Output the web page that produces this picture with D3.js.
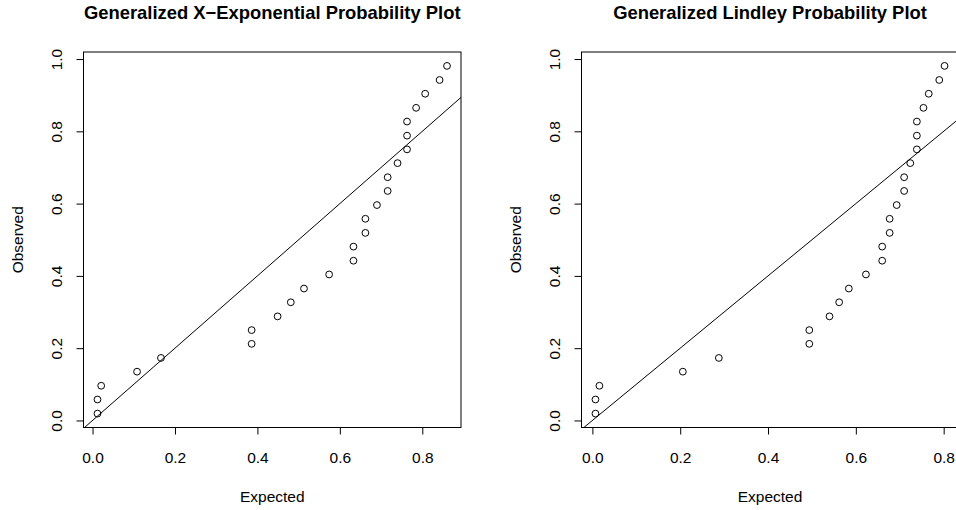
<!DOCTYPE html>
<html>
<head>
<meta charset="utf-8">
<script src="https://cdn.jsdelivr.net/npm/d3@7/dist/d3.min.js"></script>
<style>
  html, body { margin: 0; padding: 0; background: #fff; }
  svg { display: block; }
  text { font-family: "Liberation Sans", Arial, Helvetica, sans-serif; fill: #000; }
</style>
</head>
<body>
<svg id="chart" width="956" height="510"></svg>
<script>
// Observed plotting positions (shared by both panels)
const observed = [0.019, 0.058, 0.096, 0.135, 0.173, 0.212, 0.250, 0.288, 0.327, 0.365,
                  0.404, 0.442, 0.481, 0.519, 0.558, 0.596, 0.635, 0.673, 0.712, 0.750,
                  0.788, 0.827, 0.865, 0.904, 0.942, 0.981];

// Expected values under the generalized X-exponential fit
const expectedGXE = [0.012, 0.012, 0.021, 0.108, 0.166, 0.386, 0.386, 0.449, 0.481, 0.513,
                     0.574, 0.633, 0.633, 0.662, 0.662, 0.690, 0.716, 0.716, 0.740, 0.763,
                     0.763, 0.763, 0.785, 0.807, 0.842, 0.860];

// Expected values under the generalized Lindley fit
const expectedGL = [0.007, 0.007, 0.016, 0.206, 0.288, 0.494, 0.494, 0.540, 0.562, 0.584,
                    0.623, 0.660, 0.660, 0.677, 0.677, 0.693, 0.710, 0.710, 0.724, 0.739,
                    0.739, 0.739, 0.754, 0.766, 0.790, 0.802];

const xTicks = [0.0, 0.2, 0.4, 0.6, 0.8];
const yTicks = [0.0, 0.2, 0.4, 0.6, 0.8, 1.0];

const titles = ["Generalized X\u2212Exponential Probability Plot", "Generalized Lindley Probability Plot"];
const xLabel = "Expected";
const yLabel = "Observed";

// Reference line y = a + b x
const refIntercept = 0;
const refSlope = 1;

const svg = d3.select("#chart");
const fmt = d3.format(".1f");

// R-style 4% range expansion
function padExtent(vals) {
  const [lo, hi] = d3.extent(vals);
  const p = (hi - lo) * 0.04;
  return [lo - p, hi + p];
}

const panels = [
  { left: 83.5, width: 377.5, expected: expectedGXE, title: titles[0] },
  { left: 581.5, width: 377, expected: expectedGL, title: titles[1] }
];
const plotTop = 52, plotBottom = 427.5;

panels.forEach((p, i) => {
  const g = svg.append("g");
  const x = d3.scaleLinear().domain(padExtent(p.expected)).range([p.left, p.left + p.width]);
  const y = d3.scaleLinear().domain(padExtent(observed)).range([plotBottom, plotTop]);
  const cx = p.left + p.width / 2;
  const cy = (plotTop + plotBottom) / 2;

  const clipId = "clip" + i;
  g.append("clipPath").attr("id", clipId)
    .append("rect").attr("x", p.left).attr("y", plotTop)
    .attr("width", p.width).attr("height", plotBottom - plotTop);

  // reference line
  const xd = x.domain();
  g.append("line")
    .attr("clip-path", `url(#${clipId})`)
    .attr("x1", x(xd[0])).attr("y1", y(refIntercept + refSlope * xd[0]))
    .attr("x2", x(xd[1])).attr("y2", y(refIntercept + refSlope * xd[1]))
    .attr("stroke", "#000").attr("stroke-width", 1);

  // points
  g.selectAll("circle.pt").data(p.expected.map((e, j) => [e, observed[j]]))
    .join("circle").attr("class", "pt")
    .attr("cx", d => x(d[0])).attr("cy", d => y(d[1]))
    .attr("r", 3.4).attr("fill", "none").attr("stroke", "#000").attr("stroke-width", 1);

  // plot box
  g.append("rect")
    .attr("x", p.left).attr("y", plotTop)
    .attr("width", p.width).attr("height", plotBottom - plotTop)
    .attr("fill", "none").attr("stroke", "#000").attr("stroke-width", 1);

  // x axis
  const xa = g.append("g").attr("transform", `translate(0,${plotBottom})`)
    .call(d3.axisBottom(x).tickValues(xTicks).tickFormat(fmt).tickSize(7).tickPadding(0));
  xa.select(".domain").remove();
  xa.append("line").attr("x1", x(xTicks[0])).attr("x2", x(xTicks[xTicks.length - 1]))
    .attr("stroke", "#000").attr("stroke-width", 1.2);
  xa.selectAll(".tick line").attr("stroke", "#000");
  xa.selectAll(".tick text").attr("y", 35.5).attr("dy", 0)
    .style("font-size", "15.5px").style("font-family", "Liberation Sans, Arial, sans-serif").attr("fill", "#000");

  // y axis
  const ya = g.append("g").attr("transform", `translate(${p.left},0)`)
    .call(d3.axisLeft(y).tickValues(yTicks).tickFormat(fmt).tickSize(7).tickPadding(0));
  ya.select(".domain").remove();
  ya.append("line").attr("y1", y(yTicks[0])).attr("y2", y(yTicks[yTicks.length - 1]))
    .attr("stroke", "#000").attr("stroke-width", 1);
  ya.selectAll(".tick line").attr("stroke", "#000");
  ya.selectAll(".tick text")
    .attr("transform", "rotate(-90)")
    .attr("x", 0).attr("y", -21.5).attr("dy", 0)
    .attr("text-anchor", "middle")
    .style("font-size", "15.5px").style("font-family", "Liberation Sans, Arial, sans-serif").attr("fill", "#000");

  // titles and axis labels
  g.append("text").attr("x", cx).attr("y", 19)
    .attr("text-anchor", "middle").style("font-size", "18.4px").style("font-weight", "bold")
    .text(p.title);
  g.append("text").attr("x", cx).attr("y", 501.5)
    .attr("text-anchor", "middle").style("font-size", "15.5px")
    .text(xLabel);
  g.append("text")
    .attr("transform", `translate(${p.left - 60.5},${cy}) rotate(-90)`)
    .attr("text-anchor", "middle").style("font-size", "15.5px")
    .text(yLabel);
});
</script>
</body>
</html>
